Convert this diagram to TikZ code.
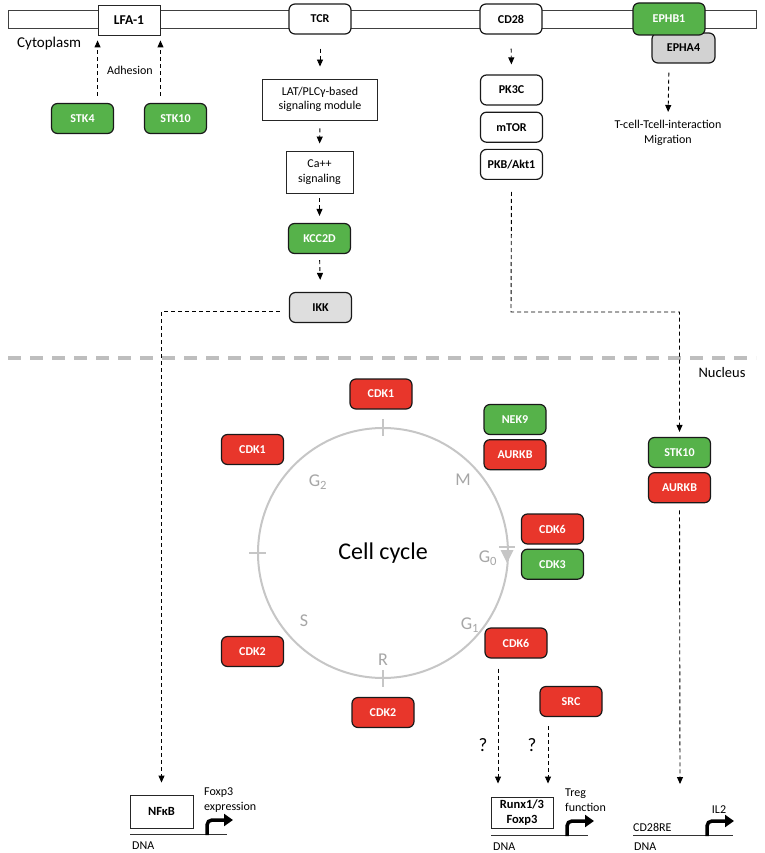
\documentclass[tikz,border=0pt]{standalone}
\usepackage{fontspec}
\setmainfont{Carlito}
\usetikzlibrary{arrows.meta,positioning}
\definecolor{kinasegreen}{HTML}{56B24A}
\definecolor{kinasered}{HTML}{E8362B}
\definecolor{boxgray}{HTML}{D2D2D2}
\definecolor{ikkgray}{HTML}{DEDEDE}
\definecolor{cyclegray}{HTML}{C6C6C6}
\definecolor{phasegray}{HTML}{A6A6A6}
\definecolor{sepgray}{HTML}{BEBEBE}

\begin{document}
\begin{tikzpicture}[
    x=1pt, y=-1pt,
    node distance=5pt,
    kin/.style={
        draw=black!90,
        rounded corners=6pt,
        line width=1.2pt,
        align=center,
        minimum width=62pt,
        minimum height=30pt,
        inner sep=0pt,
        font=\fontsize{12}{14}\selectfont\bfseries
    },
    greenbox/.style={kin, fill=kinasegreen, text=white},
    redbox/.style={kin, fill=kinasered, text=white},
    graybox/.style={kin, fill=boxgray},
    whitebox/.style={kin, fill=white},
    plainbox/.style={
        draw=black!85,
        line width=0.9pt,
        fill=white,
        align=center,
        inner sep=0pt,
        font=\fontsize{12}{14.5}\selectfont
    },
    sig/.style={
        -{Triangle[length=7pt,width=6pt]},
        line width=0.9pt,
        dash pattern=on 4pt off 3pt
    },
    promoter/.style={
        -{Triangle[length=9pt,width=12pt]},
        line width=3.5pt,
        rounded corners=5pt
    },
    dnaline/.style={line width=1pt, black!80},
    tag/.style={font=\fontsize{12}{14.5}\selectfont, inner sep=1pt},
    phase/.style={font=\fontsize{18}{20}\selectfont, text=phasegray, inner sep=0pt},
    tick/.style={line width=2pt, cyclegray}
]
\useasboundingbox (0,0) rectangle (764,853);

% Membrane
\draw[line width=0.9pt, black!75, fill=white] (8,10) rectangle (756,28);
\node[tag, anchor=west, font=\fontsize{15}{17}\selectfont] (cyto) at (16,44) {Cytoplasm};

\node[plainbox, minimum width=62pt, minimum height=30pt,
      font=\fontsize{13.5}{15}\selectfont\bfseries] (lfa) at (129,20) {LFA-1};
\node[whitebox] (tcr) at (320,19) {TCR};
\node[whitebox] (cd28) at (511,19) {CD28};
\node[graybox, minimum width=63pt] (epha) at (683.5,48) {EPHA4};
\node[greenbox, minimum width=72pt, minimum height=32pt] (ephb) at (669,19) {EPHB1};

% Adhesion
\node[greenbox] (stkfour) at (82.5,118.5) {STK4};
\node[greenbox] (stkten) at (175.5,118.5) {STK10};
\node[tag] (adhesion) at (130,70) {Adhesion};

\draw[sig, shorten <=7pt, shorten >=5pt] (lfa.south west |- stkfour.north) -- (lfa.south west);
\draw[sig, shorten <=7pt, shorten >=5pt] (lfa.south east |- stkten.north) -- (lfa.south east);

% TCR branch
\node[plainbox, minimum width=115pt, minimum height=41pt] (lat) at (320,99.5)
{LAT/PLCγ-based\\signaling module};
\node[plainbox, minimum width=67pt, minimum height=42pt] (calcium) at (319.5,172)
{Ca++\\signaling};
\node[greenbox] (kcc) at (319.5,238.5) {KCC2D};
\node[kin, fill=ikkgray] (ikk) at (320.5,307.5) {IKK};

\draw[sig, shorten <=14pt, shorten >=12pt] (tcr.south) -- (lat.north);
\draw[sig, shorten <=8pt, shorten >=7pt] (lat.south) -- (calcium.north);
\draw[sig, shorten <=5pt, shorten >=7pt] (calcium.south) -- (kcc.north);
\draw[sig, shorten <=6pt, shorten >=12pt] (kcc.south) -- (ikk.north);

% CD28 branch
\node[whitebox] (pkc) at (511.5,90) {PK3C};
\node[whitebox, below=6pt of pkc] (mtor) {mTOR};
\node[whitebox, below=6pt of mtor] (pkb) {PKB/Akt1};

\draw[sig, shorten <=14pt, shorten >=10pt] (cd28.south) -- (pkc.north);

% Ephrin receptors
\node[tag, align=center, anchor=north] (tcell) at (668,119)
{T-cell-Tcell-interaction\\Migration};
\draw[sig, shorten <=9pt, shorten >=7pt] (ephb.south |- epha.south) -- (tcell.north);

% Nuclear border
\draw[line width=4pt, sepgray, dash pattern=on 13pt off 9pt] (8,358) -- (756,358);
\node[tag, font=\fontsize{14.5}{16}\selectfont] (nucleus) at (722,373) {Nucleus};

% Cell cycle
\coordinate (cc) at (383,553);
\draw[line width=2pt, cyclegray] (cc) circle[radius=125];
\draw[tick] (383,419) -- (383,436);
\draw[tick] (249,553) -- (266,553);
\draw[tick] (383,670) -- (383,687);
\draw[tick] (499,547) -- (515,547);
\fill[cyclegray] (500.5,550) -- (513.5,550) -- (507,563) -- cycle;
\node[font=\fontsize{24}{26}\selectfont] (cclabel) at (cc) {Cell cycle};

\node[phase] (gtwo) at (318,482) {G\textsubscript{2}};
\node[phase] (mphase) at (463,480) {M};
\node[phase] (gzero) at (488,558) {G\textsubscript{0}};
\node[phase] (sphase) at (304,621) {S};
\node[phase] (gone) at (470,625) {G\textsubscript{1}};
\node[phase] (rpoint) at (383,660) {R};

\node[redbox] (cdkonetop) at (381,394) {CDK1};
\node[redbox] (cdkoneleft) at (252.5,449.5) {CDK1};
\node[greenbox] (nek) at (515,419.5) {NEK9};
\node[redbox, below=4pt of nek] (aurkbcc) {AURKB};
\node[redbox] (cdksix) at (552.5,529) {CDK6};
\node[greenbox, below=4pt of cdksix] (cdkthree) {CDK3};
\node[redbox] (cdksixlow) at (516,643) {CDK6};
\node[redbox] (cdktwoleft) at (252.5,651.5) {CDK2};
\node[redbox] (cdktwobot) at (383,712.5) {CDK2};
\node[redbox] (src) at (571,701.5) {SRC};

% Nuclear kinases
\node[greenbox] (stknuc) at (679.5,452.5) {STK10};
\node[redbox, below=4pt of stknuc] (aurkbnuc) {AURKB};

% Transcription sites
\node[plainbox, minimum width=63pt, minimum height=33pt,
      font=\fontsize{12.5}{14.5}\selectfont\bfseries] (nfkb) at (161.5,811.5) {NFκB};
\node[plainbox, minimum width=62pt, minimum height=31pt,
      font=\fontsize{12.5}{14.5}\selectfont\bfseries] (runx) at (522,812.5) {Runx1/3\\Foxp3};
\coordinate (ilsite) at (680,784);

\draw[dnaline] (130,834) -- (227,834);
\draw[dnaline] (491,835) -- (588,835);
\draw[dnaline] (633,835) -- (733,835);
\draw[promoter] (207,835) -- (207,820) -- (233,820);
\draw[promoter] (567,836) -- (567,821) -- (594,821);
\draw[promoter] (707,836) -- (707,821) -- (734,821);

\node[tag, anchor=west] (dnaleft) at (131,846) {DNA};
\node[tag, anchor=west] (dnamid) at (492,847) {DNA};
\node[tag, anchor=west] (dnaright) at (633,847) {DNA};
\node[tag, anchor=west] (cdre) at (632,827) {CD28RE};
\node[tag, anchor=west, align=left] (foxexpr) at (203,800) {Foxp3\\expression};
\node[tag, anchor=west, align=left] (tregfn) at (564,800) {Treg\\function};
\node[tag] (iltwo) at (719,810) {IL2};

\node[font=\fontsize{19}{21}\selectfont] (qone) at (483,745) {?};
\node[font=\fontsize{19}{21}\selectfont] (qtwo) at (532,745) {?};

% Connections to the nucleus
\draw[sig, shorten <=9pt] ([yshift=-4pt]ikk.west) -| ([yshift=12pt]nfkb.north);
\coordinate (cdturn) at (511,312);
\draw[sig, shorten <=12pt] (pkb.south) -- (cdturn) -| ([yshift=5pt]stknuc.north);
\draw[sig, shorten <=7pt] (aurkbnuc.south) -- (ilsite);
\draw[sig, shorten <=10pt, shorten >=13pt] ([xshift=-18pt]cdksixlow.south) -- ([xshift=-18pt]cdksixlow.south |- runx.north);
\draw[sig, shorten <=9pt, shorten >=13pt] ([xshift=-23pt]src.south) -- ([xshift=-23pt]src.south |- runx.north);

\end{tikzpicture}
\end{document}
